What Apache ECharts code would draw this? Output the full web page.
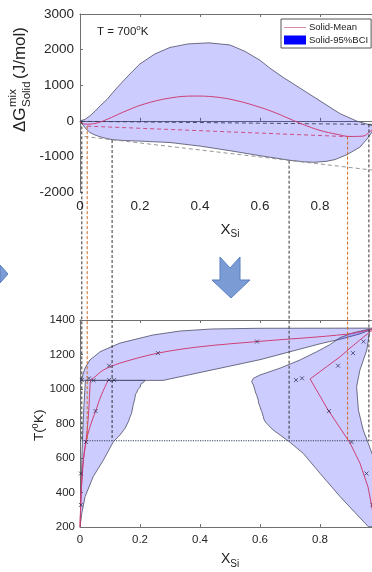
<!DOCTYPE html>
<html>
<head>
<meta charset="utf-8">
<script src="https://cdn.jsdelivr.net/npm/echarts@6/dist/echarts.min.js"></script>
<style>
  html, body { margin: 0; padding: 0; background: #fff; }
  #chart { width: 372px; height: 572px; }
</style>
</head>
<body>
<div id="chart"></div>
<script>
// top panel: free energy of mixing at 700 K
const gUpper = [[0, 0], [0.017, 40], [0.033, 140], [0.05, 270], [0.067, 420], [0.09, 600], [0.11, 800], [0.13, 990], [0.15, 1170], [0.175, 1390], [0.2, 1600], [0.25, 1880], [0.3, 2060], [0.36, 2160], [0.43, 2190], [0.5, 2130], [0.55, 1950], [0.6, 1700], [0.633, 1480], [0.677, 1220], [0.733, 920], [0.8, 560], [0.867, 200], [0.923, -10], [0.96, -100], [0.985, -170]]
const gLower = [[0, 0], [0.017, -200], [0.033, -330], [0.05, -400], [0.067, -450], [0.09, -500], [0.107, -530], [0.15, -555], [0.2, -570], [0.3, -610], [0.4, -710], [0.5, -840], [0.6, -980], [0.7, -1110], [0.75, -1155], [0.78, -1165], [0.82, -1140], [0.85, -1090], [0.89, -950], [0.933, -740], [0.96, -480], [0.985, -170]]
const gMean = [[0, -30], [0.017, -95], [0.05, -75], [0.09, 40], [0.143, 240], [0.21, 460], [0.3, 640], [0.38, 695], [0.45, 670], [0.52, 570], [0.6, 380], [0.65, 230], [0.7, 50], [0.743, -100], [0.8, -270], [0.857, -380], [0.9, -440], [0.943, -430], [0.967, -300], [0.985, -180]]
const tangentBlack = [[0.003, -15], [0.975, -100]]
const tangentRed = [[0.024, -150], [0.892, -445]]
const tangentGrey = [[0.015, -440], [1, -1410]]

// bottom panel: phase diagram
const bandTop = [[0, 1050], [0.006, 1064], [0.017, 1122], [0.033, 1168], [0.067, 1216], [0.133, 1266], [0.243, 1313], [0.333, 1336], [0.44, 1348], [0.6, 1352], [1, 1353], [0.975, 1348], [0.93, 1318], [0.87, 1290], [0.8, 1262], [0.6, 1170], [0.277, 1050]]
const bandLeft = [[0, 200], [0.003, 400], [0.008, 700], [0.013, 900], [0.018, 1050], [0.217, 1050], [0.211, 1037], [0.203, 1029], [0.2, 1010], [0.192, 994], [0.189, 978], [0.185, 970], [0.183, 946], [0.18, 926], [0.178, 912], [0.176, 897], [0.172, 859], [0.167, 839], [0.161, 810], [0.15, 772], [0.133, 733], [0.111, 694], [0.078, 588], [0.044, 492], [0.017, 376], [0.006, 279]]
const bandRight = [[0.961, 202], [0.867, 376], [0.8, 511], [0.744, 627], [0.697, 695], [0.667, 733], [0.644, 762], [0.622, 801], [0.614, 820], [0.611, 839], [0.606, 868], [0.603, 880], [0.6, 897], [0.596, 915], [0.594, 936], [0.589, 965], [0.586, 975], [0.583, 994], [0.578, 1023], [0.572, 1042], [0.575, 1052], [0.578, 1062], [0.6, 1081], [0.667, 1121], [0.733, 1168], [0.789, 1216], [0.833, 1257], [0.867, 1298], [0.911, 1326], [0.967, 1348], [0.956, 1226], [0.933, 1110], [0.922, 1013], [0.928, 878], [0.944, 762], [0.961, 685], [0.973, 627], [1, 520], [1, 200]]
const meanLeft = [[0, 200], [0.002, 300], [0.004, 400], [0.008, 520], [0.013, 620], [0.02, 700], [0.026, 800], [0.03, 900], [0.033, 1000], [0.036, 1050], [0.05, 1071], [0.078, 1110], [0.133, 1150], [0.26, 1208], [0.4, 1245], [0.59, 1275], [0.89, 1318], [0.985, 1352]]
const meanLeft2 = [[0, 200], [0.004, 400], [0.01, 560], [0.02, 693], [0.035, 790], [0.052, 872], [0.07, 960], [0.094, 1052]]
const meanRight = [[0.985, 1352], [0.967, 1332], [0.933, 1284], [0.9, 1237], [0.867, 1187], [0.822, 1129], [0.767, 1058], [0.827, 878], [0.867, 774], [0.9, 687], [0.933, 571], [0.96, 432], [0.973, 316], [0.985, 200]]
const samples = [[0.003, 328], [0.003, 510], [0.02, 693], [0.052, 872], [0.006, 1052], [0.03, 1062], [0.045, 1050], [0.097, 1135], [0.097, 1052], [0.114, 1052], [0.26, 1208], [0.59, 1275], [0.72, 1052], [0.74, 1062], [0.83, 872], [0.86, 1135], [0.905, 693], [0.91, 1208], [0.945, 1275], [0.955, 510], [0.975, 328]]
const isoT = 700

// guides from the tangent points down to the 700 K line
const guideX = [0.006, 0.024, 0.107, 0.697, 0.892, 0.963]
const guideG = [-15, -150, -540, -1120, -445, -100]
const guideColor = ['#333', '#d2691e', '#333', '#333', '#d2691e', '#333']

const FILL = 'rgba(0,0,255,0.2)'
const EDGE = '#4d4d66'
const RED = '#cc3f75'
const AXIS = '#707070'
const plain = v => String(v)

function area(name, pts, gi) {
  return {
    type: 'custom', name: name, xAxisIndex: gi, yAxisIndex: gi, clip: true,
    itemStyle: { color: '#0000ff' },
    data: pts,
    renderItem: (params, api) => {
      if (params.dataIndex !== 0) return null
      return {
        type: 'polygon',
        shape: { points: pts.map(p => api.coord(p)) },
        style: { fill: FILL, stroke: EDGE, lineWidth: 0.8 }
      }
    }
  }
}

function line(name, pts, gi, color, type, width, smooth) {
  return {
    type: 'line', name: name, xAxisIndex: gi, yAxisIndex: gi, data: pts,
    symbol: 'none', smooth: smooth || false, z: 5,
    lineStyle: { color: color, width: width || 1, type: type || 'solid' },
    itemStyle: { color: color }
  }
}

function xAx(gi, fs, top) {
  return {
    type: 'value', gridIndex: gi, min: 0, max: 1, interval: 0.2,
    position: top ? 'top' : 'bottom',
    axisLine: { show: true, lineStyle: { color: AXIS } },
    axisTick: { show: true, inside: true, length: 3, lineStyle: { color: AXIS } },
    axisLabel: { show: !top, fontSize: fs, color: '#262626', margin: 7, fontFamily: 'Liberation Sans', formatter: plain },
    splitLine: { show: false }
  }
}

const chart = echarts.init(document.getElementById('chart'))

const sub = { fontSize: 10, padding: [9, 0, 0, 0], color: '#222', fontFamily: 'Liberation Sans' }

chart.setOption({
  animation: false,
  grid: [
    { left: 80, top: 14, width: 300, height: 178, outerBoundsMode: 'none', containLabel: false },
    { left: 80, top: 320, width: 300, height: 207, outerBoundsMode: 'none', containLabel: false }
  ],
  xAxis: [
    Object.assign(xAx(0, 13.5), {
      name: 'X{s|Si}', nameLocation: 'middle', nameGap: 28,
      nameTextStyle: { fontSize: 15, color: '#222', fontFamily: 'Liberation Sans', rich: { s: sub } }
    }),
    Object.assign(xAx(1, 11.5), {
      name: 'X{s|Si}', nameLocation: 'middle', nameGap: 23,
      nameTextStyle: { fontSize: 14, color: '#222', fontFamily: 'Liberation Sans', rich: { s: sub } }
    }),
    xAx(0, 13.5, true),
    xAx(1, 11.5, true)
  ],
  yAxis: [
    {
      type: 'value', gridIndex: 0, min: -2000, max: 3000, interval: 1000,
      axisLine: { show: true, lineStyle: { color: AXIS } },
      axisTick: { show: true, inside: true, length: 3, lineStyle: { color: AXIS } },
      axisLabel: { fontSize: 13.5, color: '#262626', margin: 6, fontFamily: 'Liberation Sans', formatter: plain },
      splitLine: { show: false }
    },
    {
      type: 'value', gridIndex: 1, min: 200, max: 1400, interval: 200,
      axisLine: { show: true, lineStyle: { color: AXIS } },
      axisTick: { show: true, inside: true, length: 3, lineStyle: { color: AXIS } },
      axisLabel: { fontSize: 11.5, color: '#262626', margin: 5, fontFamily: 'Liberation Sans', formatter: plain },
      splitLine: { show: false }
    }
  ],
  legend: {
    left: 281, top: 19, orient: 'vertical',
    itemWidth: 22, itemHeight: 9, itemGap: 3,
    padding: [3, 3, 3, 3],
    backgroundColor: '#fff', borderColor: '#555', borderWidth: 1, borderRadius: 0,
    textStyle: { fontSize: 9.5, color: '#222', fontFamily: 'Liberation Sans', padding: [0, 0, 0, -2] },
    data: [
      { name: 'Solid-Mean', icon: 'path://M0,0L0.01,0ZM0,4.5H22V5.5H0ZM0,9L0.01,9Z', itemStyle: { color: '#d98aa5' } },
      { name: 'Solid-95%BCI', icon: 'rect' }
    ]
  },
  series: [
    area('Solid-95%BCI', gUpper.concat(gLower.slice().reverse()), 0),
    line('grey', tangentGrey, 0, '#8a8a8a', [4, 3], 0.9),
    line('black', tangentBlack, 0, '#3c3c55', [4, 3], 0.9),
    line('red', tangentRed, 0, RED, [4, 3], 0.9),
    line('Solid-Mean', gMean, 0, RED, 'solid', 1, 0.4),

    area('top', bandTop, 1),
    area('left', bandLeft, 1),
    area('right', bandRight, 1),
    line('iso', [[0, isoT], [1, isoT]], 1, '#33405a', [1.2, 1.2], 1.1),
    line('m1', meanLeft, 1, RED, 'solid', 1, 0.3),
    line('m2', meanLeft2, 1, RED, 'solid', 1, 0.3),
    line('m3', meanRight, 1, RED, 'solid', 1),
    {
      type: 'scatter', xAxisIndex: 1, yAxisIndex: 1, data: samples, z: 6,
      symbol: 'path://M0,0L10,10M10,0L0,10', symbolSize: 4,
      itemStyle: { color: 'none', borderColor: '#2a2a50', borderWidth: 0.9 }
    }
  ]
})

// guide lines crossing both panels
const guides = guideX.map((x, i) => {
  const p0 = chart.convertToPixel({ gridIndex: 0 }, [x, guideG[i]])
  const p1 = chart.convertToPixel({ gridIndex: 1 }, [x, isoT])
  return {
    type: 'line', z: 20,
    shape: { x1: p0[0], y1: p0[1], x2: p1[0], y2: p1[1] },
    style: { stroke: guideColor[i], lineWidth: 1, lineDash: [3, 2] }
  }
})

const txt = (text, x, y, size) => ({
  type: 'text', x: x, y: y,
  style: { text: text, fontSize: size, fill: '#222', fontFamily: 'Liberation Sans', verticalAlign: 'bottom' }
})

chart.setOption({
  graphic: guides.concat([
    {
      type: 'text', left: 97, top: 24, z: 20,
      style: {
        text: 'T = 700{s|o}K', fontSize: 11.5, fill: '#222', fontFamily: 'Liberation Sans',
        rich: { s: { fontSize: 8, padding: [0, 0, 7, 0], fill: '#222', fontFamily: 'Liberation Sans' } }
      }
    },
    {
      type: 'group', x: 29, y: 132, rotation: Math.PI / 2,
      children: [
        txt('\u0394G', 0, 0, 17),
        txt('mix', 25, -10, 11.5),
        txt('Solid', 25, 4, 11.5),
        txt('(J/mol)', 53, 0, 17)
      ]
    },
    {
      type: 'group', x: 46, y: 441, rotation: Math.PI / 2,
      children: [
        txt('T(', 0, 0, 13.5),
        txt('0', 12.5, -6, 9),
        txt('K)', 18, 0, 13.5)
      ]
    },
    {
      type: 'polygon', z: 20,
      shape: { points: [[220, 257], [230, 268], [240, 257], [240, 280], [250, 280], [231, 298], [212, 280], [220, 280]] },
      style: { fill: '#7a9bd4', stroke: '#5b7fc2', lineWidth: 1 }
    },
    {
      type: 'polygon', z: 20,
      shape: { points: [[0, 265], [8, 274], [0, 283]] },
      style: { fill: '#7a9bd4', stroke: '#5b7fc2', lineWidth: 1 }
    }
  ])
})
</script>
</body>
</html>
